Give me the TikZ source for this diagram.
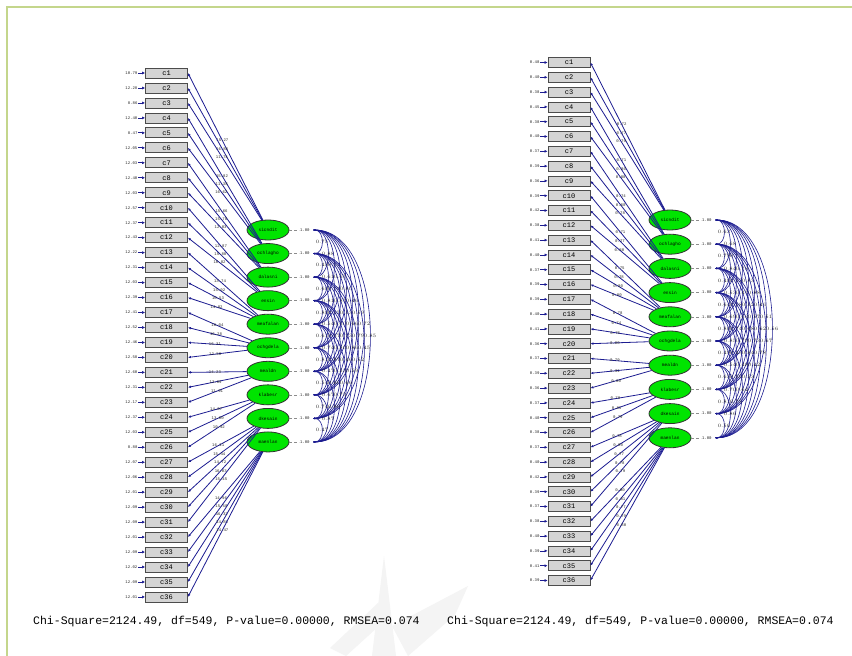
\documentclass[tikz,border=0pt]{standalone}
\usepackage{fontspec}
\setmonofont{Liberation Mono}
\usetikzlibrary{arrows.meta,shapes.geometric,calc}
\definecolor{pathblue}{RGB}{28,28,145}
\definecolor{boxgray}{RGB}{212,212,212}
\definecolor{framegreen}{RGB}{196,214,140}
\definecolor{ellgreen}{RGB}{0,228,0}
\begin{document}
\begin{tikzpicture}[x=1pt,y=-1pt,
  obs/.style={draw=black!70,fill=boxgray,line width=0.8pt,minimum width=42pt,minimum height=10pt,inner sep=0pt,font=\ttfamily\fontsize{7}{7}\selectfont},
  lat/.style={ellipse,draw=black!80,fill=ellgreen,line width=0.8pt,minimum width=42pt,minimum height=20pt,inner sep=0pt,font=\ttfamily\fontsize{4.5}{4.5}\selectfont},
  lbl/.style={font=\ttfamily\fontsize{4}{4}\selectfont,inner sep=0.4pt,text=black!85},
  clbl/.style={font=\ttfamily\fontsize{3.2}{3.2}\selectfont,inner sep=0pt,text=black!85},
  load/.style={draw=pathblue,line width=0.8pt,-{Latex[length=3pt,width=2.5pt]}},
  err/.style={draw=pathblue,line width=0.8pt,-{Latex[length=3pt,width=3pt]}},
  cov/.style={draw=pathblue,line width=0.6pt,{Latex[length=2pt,width=1.6pt]}-{Latex[length=2pt,width=1.6pt]}},
  unit/.style={draw=black!45,densely dashed,line width=0.4pt},
  stat/.style={font=\ttfamily\fontsize{11.5}{12}\selectfont,anchor=west,inner sep=0pt}
]
\useasboundingbox (0,0) rectangle (852,656);
\fill[white] (0,0) rectangle (852,656);
% watermark
\fill[gray!9] (372,656) -- (384,556) -- (396,656) -- cycle;
\fill[gray!9] (330,648) -- (378,603) -- (379,626) -- (346,656) -- cycle;
\fill[gray!9] (392,626) -- (468,586) -- (455,615) -- (408,656) -- cycle;
% frame
\draw[framegreen,line width=2pt] (7,656) -- (7,7) -- (852,7);

% ===== LEFT MODEL =====
\foreach \k/\n in {1/sicndit,2/ochlagho,3/dalasni,4/ensin,5/meafalan,6/ochgdela,7/mealdn,8/klabesr,9/dkesain,10/maenlan}{
  \node[lat] (LF\k) at (268,{230+(\k-1)*23.55}) {\n};
  \draw[unit] (LF\k.east) -- ++(10,0) node[lbl,anchor=west] (LU\k) {1.00};
  \coordinate (LA\k) at (313,{230+(\k-1)*23.55});
}
\foreach \i/\e/\f/\l in {1/10.79/1/15.27,2/12.28/1/16.88,3/8.86/1/11.74,4/12.40/2/15.82,5/8.47/2/11.38,6/12.05/2/16.62,7/12.03/3/15.66,8/12.40/3/15.78,9/12.03/3/12.03,10/12.57/4/12.87,11/12.37/4/15.88,12/12.43/4/16.82,13/12.22/5/13.74,14/12.31/5/15.92,15/12.03/5/16.53,16/12.39/5/14.82,17/12.41/6/16.04,18/12.52/6/16.28,19/12.46/6/16.31,20/12.58/6/12.58,21/12.60/7/14.23,22/12.31/7/13.09,23/12.17/7/11.91,24/12.37/8/14.07,25/12.03/8/13.80,26/8.88/8/10.92,27/12.07/9/16.11,28/12.06/9/15.44,29/12.01/9/14.72,30/12.09/9/16.03,31/12.09/9/15.45,32/12.01/10/14.96,33/12.09/10/15.50,34/12.02/10/16.32,35/12.09/10/14.88,36/12.01/10/14.47}{
  \node[obs] (Lc\i) at (166.5,{73+(\i-1)*14.97}) {c\i};
  \node[lbl,anchor=east] (Le\i) at (138,{73+(\i-1)*14.97}) {\e};
  \draw[err] (Le\i.east) -- (Lc\i.west);
  \draw[load] (LF\f) -- node[lbl,pos=0.54] {\l} (Lc\i.east);
}
\foreach \i in {1,...,9}{
  \pgfmathtruncatemacro\ii{\i+1}
  \foreach \j in {\ii,...,10}{
    \pgfmathsetmacro\dd{4+8*(\j-\i)}
    \pgfmathsetmacro\cv{0.42+mod(\i*7+\j*13,47)/100}
    \draw[cov] (LA\i) .. controls +(\dd,0) and +(\dd,0) .. node[clbl,pos=0.5]{\pgfmathprintnumber[fixed,precision=2,fixed zerofill]{\cv}} (LA\j);
  }
}
\node[stat] (Lstat) at (33,622) {Chi-Square=2124.49, df=549, P-value=0.00000, RMSEA=0.074};

% ===== RIGHT MODEL =====
\foreach \k/\n in {1/sicndit,2/ochlagho,3/dalasni,4/ensin,5/meafalan,6/ochgdela,7/mealdn,8/klabesr,9/dkesain,10/maenlan}{
  \node[lat] (RF\k) at (670,{220+(\k-1)*24.2}) {\n};
  \draw[unit] (RF\k.east) -- ++(10,0) node[lbl,anchor=west] (RU\k) {1.00};
  \coordinate (RA\k) at (715,{220+(\k-1)*24.2});
}
\foreach \i/\e/\f/\l in {1/0.48/1/0.72,2/0.40/1/0.77,3/0.38/1/0.79,4/0.45/2/0.71,5/0.38/2/0.80,6/0.40/2/0.88,7/0.37/3/0.74,8/0.39/3/0.80,9/0.36/3/0.78,10/0.39/4/0.71,11/0.42/4/0.77,12/0.38/4/0.80,13/0.41/5/0.75,14/0.40/5/0.78,15/0.37/5/0.80,16/0.39/5/0.80,17/0.39/6/0.78,18/0.40/6/0.74,19/0.41/6/0.76,20/0.36/6/0.80,21/0.37/7/0.79,22/0.39/7/0.81,23/0.36/7/0.80,24/0.37/8/0.79,25/0.40/8/0.81,26/0.38/8/0.79,27/0.37/9/0.78,28/0.40/9/0.80,29/0.42/9/0.77,30/0.39/9/0.78,31/0.37/9/0.79,32/0.38/10/0.80,33/0.40/10/0.81,34/0.39/10/0.77,35/0.41/10/0.79,36/0.39/10/0.80}{
  \node[obs] (Rc\i) at (569,{62.5+(\i-1)*14.8}) {c\i};
  \node[lbl,anchor=east] (Re\i) at (540,{62.5+(\i-1)*14.8}) {\e};
  \draw[err] (Re\i.east) -- (Rc\i.west);
  \draw[load] (RF\f) -- node[lbl,pos=0.58] {\l} (Rc\i.east);
}
\foreach \i in {1,...,9}{
  \pgfmathtruncatemacro\ii{\i+1}
  \foreach \j in {\ii,...,10}{
    \pgfmathsetmacro\dd{4+8*(\j-\i)}
    \pgfmathsetmacro\cv{0.42+mod(\i*11+\j*5,47)/100}
    \draw[cov] (RA\i) .. controls +(\dd,0) and +(\dd,0) .. node[clbl,pos=0.5]{\pgfmathprintnumber[fixed,precision=2,fixed zerofill]{\cv}} (RA\j);
  }
}
\node[stat] (Rstat) at (447,622) {Chi-Square=2124.49, df=549, P-value=0.00000, RMSEA=0.074};
\end{tikzpicture}
\end{document}
